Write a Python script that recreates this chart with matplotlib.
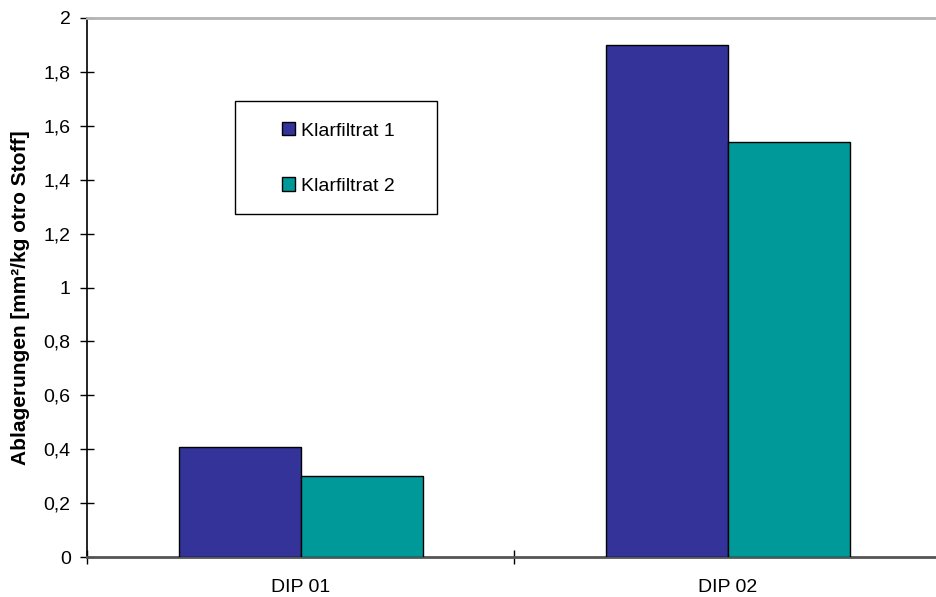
import matplotlib
matplotlib.use("Agg")
import matplotlib.pyplot as plt
from matplotlib.patches import Patch, Rectangle
import numpy as np

plt.rcParams['font.family'] = ['Liberation Sans', 'DejaVu Sans']

categories = ["DIP 01", "DIP 02"]
series_names = ["Klarfiltrat 1", "Klarfiltrat 2"]
klarfiltrat_1 = [0.41, 1.90]
klarfiltrat_2 = [0.30, 1.54]
y_ticks = [0, 0.2, 0.4, 0.6, 0.8, 1.0, 1.2, 1.4, 1.6, 1.8, 2.0]
y_tick_labels = ["0", "0,2", "0,4", "0,6", "0,8", "1", "1,2", "1,4", "1,6", "1,8", "2"]

colors = ["#333399", "#009999"]
FS = 14

W, H = 936, 597
fig = plt.figure(figsize=(W / 100, H / 100), dpi=100)
ax = fig.add_axes([87 / W, 1 - 557 / H, 854 / W, 539 / H])

x = np.arange(len(categories))
bw = 1 / 3.5
ax.bar(x - bw / 2, klarfiltrat_1, width=bw, color=colors[0], edgecolor="black", linewidth=1.0, zorder=3)
ax.bar(x + bw / 2, klarfiltrat_2, width=bw, color=colors[1], edgecolor="black", linewidth=1.0, zorder=3)

ax.set_xlim(-0.5, len(categories) - 0.5)
ax.set_ylim(0, 2)

ax.set_yticks(y_ticks)
ax.set_yticklabels(y_tick_labels, fontsize=FS)
ax.tick_params(axis="y", direction="inout", length=9.5, width=1, pad=7)

ax.set_xticks(np.arange(-0.5, len(categories), 1.0))
ax.set_xticklabels([])
ax.tick_params(axis="x", which="major", direction="inout", length=9.5, width=1)
ax.set_xticks(x, minor=True)
ax.set_xticklabels(categories, minor=True, fontsize=FS)
ax.tick_params(axis="x", which="minor", length=0, pad=16)

ax.spines["right"].set_visible(False)
ax.spines["left"].set_color("black")
ax.spines["left"].set_linewidth(1.2)
ax.spines["bottom"].set_color("#555555")
ax.spines["bottom"].set_linewidth(2)
ax.spines["top"].set_color("#b4b4b4")
ax.spines["top"].set_linewidth(2)

fig.text(21 / W, 1 - 298 / H, "Ablagerungen [mm²/kg otro Stoff]", rotation=90,
         ha="center", va="center", fontsize=15, fontweight="bold")

# legend box
fig.patches.append(Rectangle((235 / W, 1 - 214 / H), 202 / W, 113 / H,
                             transform=fig.transFigure, facecolor="white",
                             edgecolor="black", linewidth=1, zorder=5))
handles = [Patch(facecolor=c, edgecolor="black", linewidth=1) for c in colors]
leg = fig.legend(handles, series_names, loc="center", bbox_to_anchor=(338 / W, 1 - 158.5 / H),
                 frameon=False, fontsize=FS, handlelength=0.68, handleheight=0.68,
                 handletextpad=0.3, labelspacing=1.95)
leg.set_zorder(6)

fig.savefig("out.png", dpi=100)
